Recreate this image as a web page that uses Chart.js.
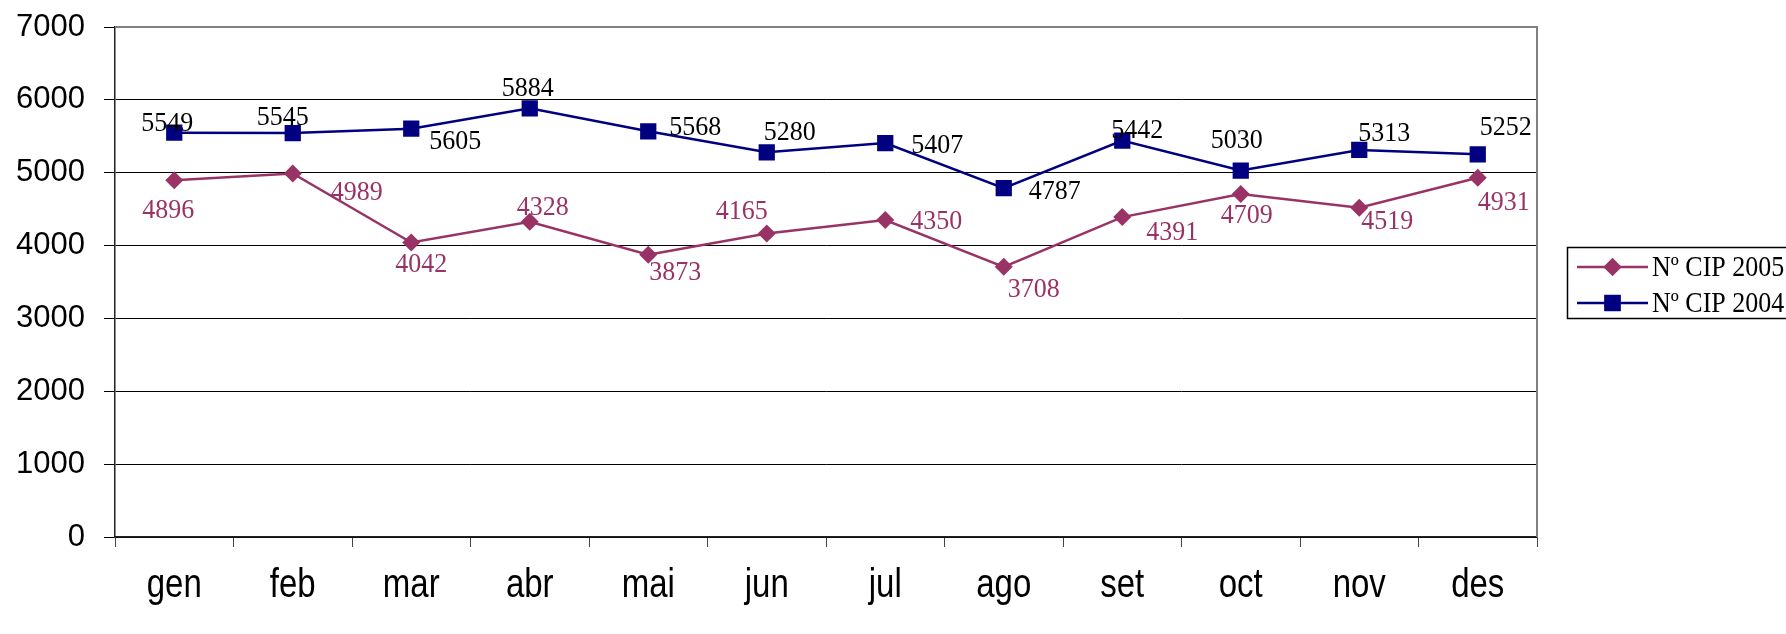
<!DOCTYPE html>
<html><head><meta charset="utf-8">
<script src="https://cdn.jsdelivr.net/npm/chart.js@4"></script>
<style>html,body{margin:0;padding:0;background:#fff;overflow:hidden}</style>
</head><body>
<canvas id="c" width="1786" height="634"></canvas>
<script>
const months = ['gen','feb','mar','abr','mai','jun','jul','ago','set','oct','nov','des'];
const cip2005 = [4896,4989,4042,4328,3873,4165,4350,3708,4391,4709,4519,4931];
const cip2004 = [5549,5545,5605,5884,5568,5280,5407,4787,5442,5030,5313,5252];
const seriesNames = ['Nº CIP 2005','Nº CIP 2004'];
const yMin = 0, yMax = 7000, yStep = 1000;

// label placement offsets (px) relative to each point
const off2005 = [[-6,30],[64,19],[10,22],[13,-14],[27,18],[-25,-22],[51,2],[30,23],[50,16],[6,22],[28,14],[26,25]];
const off2004 = [[-7,-9],[-10,-15],[44,13],[-2,-20],[47,-4],[23,-20],[52,3],[51,3],[15,-10],[-4,-30],[25,-16],[28,-27]];

const C05 = '#993366', C04 = '#000080';
const SERIF = '"Liberation Serif", "Times New Roman", serif';
const SANS = '"Liberation Sans", Arial, sans-serif';

const labelPlugin = {
  id: 'labels',
  afterDatasetsDraw(chart) {
    const ctx = chart.ctx;
    ctx.save();
    ctx.font = '26px ' + SERIF;
    ctx.textAlign = 'center';
    ctx.textBaseline = 'middle';
    chart.data.datasets.forEach((ds, i) => {
      const meta = chart.getDatasetMeta(i);
      const offs = i === 0 ? off2005 : off2004;
      ctx.fillStyle = i === 0 ? C05 : '#000';
      meta.data.forEach((pt, j) => {
        ctx.save();
        ctx.translate(pt.x + offs[j][0], pt.y + offs[j][1]);
        ctx.scale(1, 1.08);
        ctx.fillText(String(ds.data[j]), 0, 0);
        ctx.restore();
      });
    });
    ctx.restore();
  }
};

const xLabelPlugin = {
  id: 'xlabels',
  afterDraw(chart) {
    const ctx = chart.ctx;
    const xs = chart.scales.x;
    ctx.save();
    ctx.font = '33px ' + SANS;
    ctx.fillStyle = '#000';
    ctx.textAlign = 'center';
    ctx.textBaseline = 'alphabetic';
    chart.data.labels.forEach((lab, i) => {
      ctx.save();
      ctx.translate(xs.getPixelForValue(i), xs.top + 60);
      ctx.scale(1, 1.22);
      ctx.fillText(lab, 0, 0);
      ctx.restore();
    });
    ctx.restore();
  }
};

const framePlugin = {
  id: 'frame',
  afterDatasetsDraw(chart) {
    const {ctx, chartArea: a} = chart;
    ctx.save();
    ctx.strokeStyle = '#808080';
    ctx.lineWidth = 2;
    ctx.beginPath();
    ctx.moveTo(a.left, a.top);
    ctx.lineTo(a.right, a.top);
    ctx.lineTo(a.right, a.bottom);
    ctx.stroke();
    ctx.restore();
  },
  afterDraw(chart) {
    const ctx = chart.ctx;
    ctx.save();
    ctx.strokeStyle = '#000';
    ctx.lineWidth = 1.5;
    ctx.strokeRect(1567.5, 247.5, 300, 71);
    const rows = [
      {y: 267, color: C05, style: 'rectRot', r: 9, text: seriesNames[0]},
      {y: 303, color: C04, style: 'rect', r: 11.5, text: seriesNames[1]}
    ];
    ctx.font = '26px ' + SERIF;
    ctx.textBaseline = 'middle';
    ctx.textAlign = 'left';
    rows.forEach(row => {
      ctx.strokeStyle = row.color;
      ctx.lineWidth = 2.5;
      ctx.beginPath();
      ctx.moveTo(1577, row.y);
      ctx.lineTo(1648, row.y);
      ctx.stroke();
      ctx.fillStyle = row.color;
      Chart.helpers.drawPoint(ctx, {pointStyle: row.style, radius: row.r, borderWidth: 0}, 1612.5, row.y);
      ctx.fill();
      ctx.fillStyle = '#000';
      ctx.save();
      ctx.translate(1652, row.y + 1);
      ctx.scale(1, 1.1);
      ctx.fillText(row.text, 0, 0);
      ctx.restore();
    });
    ctx.restore();
  }
};

new Chart(document.getElementById('c'), {
  type: 'line',
  data: {
    labels: months,
    datasets: [
      {label: seriesNames[0], data: cip2005, borderColor: C05, backgroundColor: C05,
       pointStyle: 'rectRot', pointRadius: 9, pointHoverRadius: 9, pointBorderWidth: 0, borderWidth: 2.5, tension: 0},
      {label: seriesNames[1], data: cip2004, borderColor: C04, backgroundColor: C04,
       pointStyle: 'rect', pointRadius: 11.5, pointHoverRadius: 11.5, pointBorderWidth: 0, borderWidth: 2.5, tension: 0}
    ]
  },
  options: {
    responsive: false,
    animation: false,
    events: [],
    layout: {padding: {top: 27, right: 249, left: 0, bottom: 0}},
    plugins: {legend: {display: false}, tooltip: {enabled: false}},
    scales: {
      x: {
        offset: true,
        grid: {offset: true, drawOnChartArea: false, drawTicks: true, tickLength: 10, color: '#444', lineWidth: 1},
        border: {color: '#222', width: 1.5},
        ticks: {display: false},
        afterFit(s) { s.height = 97; s.paddingLeft = 0; s.paddingRight = 0; }
      },
      y: {
        min: yMin, max: yMax,
        ticks: {stepSize: yStep, color: '#000', padding: 19, font: {family: SANS, size: 31},
                callback: v => String(v)},
        grid: {color: c => (c.tick && c.tick.value === yMax) ? '#808080' : '#000', tickColor: '#000', lineWidth: 1, tickLength: 11},
        border: {color: '#222', width: 1.5},
        afterFit(s) { s.width = 115; s.paddingTop = 0; s.paddingBottom = 0; }
      }
    }
  },
  plugins: [framePlugin, labelPlugin, xLabelPlugin]
});
</script>
</body></html>
